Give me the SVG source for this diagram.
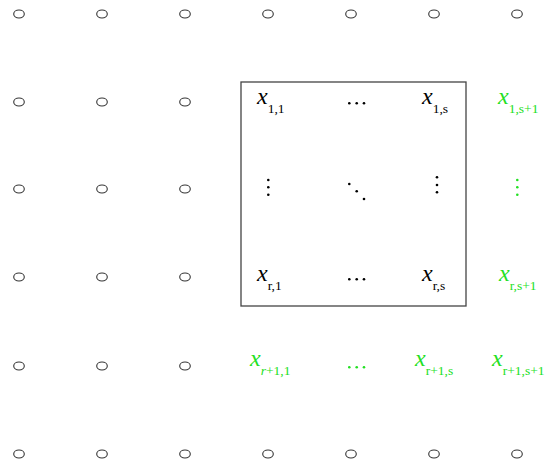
<svg xmlns="http://www.w3.org/2000/svg" width="550" height="465" viewBox="0 0 550 465">
<style>
.o{fill:none;stroke:#333;stroke-width:1.1}
.t{font-family:"Liberation Serif","Times New Roman",serif;fill:#000}
.g{fill:#22e022}
.x{font-style:italic;font-size:24px}
.s{font-size:13.5px}
.box{fill:none;stroke:#444;stroke-width:1.3}
circle{stroke:none}
</style>
<g id="grid">
<ellipse class="o" cx="19" cy="14" rx="5.3" ry="4"/><ellipse class="o" cx="102" cy="14" rx="5.3" ry="4"/><ellipse class="o" cx="185" cy="14" rx="5.3" ry="4"/><ellipse class="o" cx="268" cy="14" rx="5.3" ry="4"/><ellipse class="o" cx="351" cy="14" rx="5.3" ry="4"/><ellipse class="o" cx="434" cy="14" rx="5.3" ry="4"/><ellipse class="o" cx="517" cy="14" rx="5.3" ry="4"/>
<ellipse class="o" cx="19" cy="102" rx="5.3" ry="4"/><ellipse class="o" cx="102" cy="102" rx="5.3" ry="4"/><ellipse class="o" cx="185" cy="102" rx="5.3" ry="4"/>
<ellipse class="o" cx="19" cy="189" rx="5.3" ry="4"/><ellipse class="o" cx="102" cy="189" rx="5.3" ry="4"/><ellipse class="o" cx="185" cy="189" rx="5.3" ry="4"/>
<ellipse class="o" cx="19" cy="277" rx="5.3" ry="4"/><ellipse class="o" cx="102" cy="277" rx="5.3" ry="4"/><ellipse class="o" cx="185" cy="277" rx="5.3" ry="4"/>
<ellipse class="o" cx="19" cy="366" rx="5.3" ry="4"/><ellipse class="o" cx="102" cy="366" rx="5.3" ry="4"/><ellipse class="o" cx="185" cy="366" rx="5.3" ry="4"/>
<ellipse class="o" cx="19" cy="454" rx="5.3" ry="4"/><ellipse class="o" cx="102" cy="454" rx="5.3" ry="4"/><ellipse class="o" cx="185" cy="454" rx="5.3" ry="4"/><ellipse class="o" cx="268" cy="454" rx="5.3" ry="4"/><ellipse class="o" cx="351" cy="454" rx="5.3" ry="4"/><ellipse class="o" cx="434" cy="454" rx="5.3" ry="4"/><ellipse class="o" cx="517" cy="454" rx="5.3" ry="4"/>
</g>
<g id="box"><rect class="box" x="241" y="82" width="225" height="224"/></g>
<g id="matrix" class="t">
<text x="257" y="104"><tspan class="x">x</tspan><tspan class="s" dy="8.5">1,1</tspan></text>
<g id="hdots1"><circle cx="349.3" cy="103.3" r="1.3"/><circle cx="356.7" cy="103.3" r="1.3"/><circle cx="364" cy="103.3" r="1.3"/></g>
<text x="422" y="104"><tspan class="x">x</tspan><tspan class="s" dy="8.5">1,s</tspan></text>
<text x="498" y="104" class="g"><tspan class="x">x</tspan><tspan class="s" dy="8.5">1,s+1</tspan></text>
<g id="vdots1"><circle cx="268.3" cy="180" r="1.3"/><circle cx="268.3" cy="187.3" r="1.3"/><circle cx="268.3" cy="194.7" r="1.3"/></g>
<g id="ddots"><circle cx="349.3" cy="184" r="1.3"/><circle cx="356.7" cy="191.3" r="1.3"/><circle cx="364" cy="199" r="1.3"/></g>
<g id="vdots2"><circle cx="437" cy="177.3" r="1.3"/><circle cx="437" cy="185" r="1.3"/><circle cx="437" cy="192.3" r="1.3"/></g>
<g id="vdots3" class="g"><circle cx="517.3" cy="180" r="1.3"/><circle cx="517.3" cy="187.3" r="1.3"/><circle cx="517.3" cy="194.7" r="1.3"/></g>
<text x="257" y="281"><tspan class="x">x</tspan><tspan class="s" dy="8.5">r,1</tspan></text>
<g id="hdots2"><circle cx="349.3" cy="279.3" r="1.3"/><circle cx="356.7" cy="279.3" r="1.3"/><circle cx="364" cy="279.3" r="1.3"/></g>
<text x="422" y="281"><tspan class="x">x</tspan><tspan class="s" dy="8.5">r,s</tspan></text>
<text x="499" y="281" class="g"><tspan class="x">x</tspan><tspan class="s" dy="8.5">r,s+1</tspan></text>
<text x="250" y="366" class="g"><tspan class="x">x</tspan><tspan class="s" dy="8.5"><tspan font-style="italic">r</tspan>+1,1</tspan></text>
<g id="hdots3" class="g"><circle cx="349.3" cy="367.3" r="1.3"/><circle cx="356.7" cy="367.3" r="1.3"/><circle cx="364" cy="367.3" r="1.3"/></g>
<text x="415" y="366" class="g"><tspan class="x">x</tspan><tspan class="s" dy="8.5">r+1,s</tspan></text>
<text x="492" y="366" class="g"><tspan class="x">x</tspan><tspan class="s" dy="8.5">r+1,s+1</tspan></text>
</g>
</svg>
